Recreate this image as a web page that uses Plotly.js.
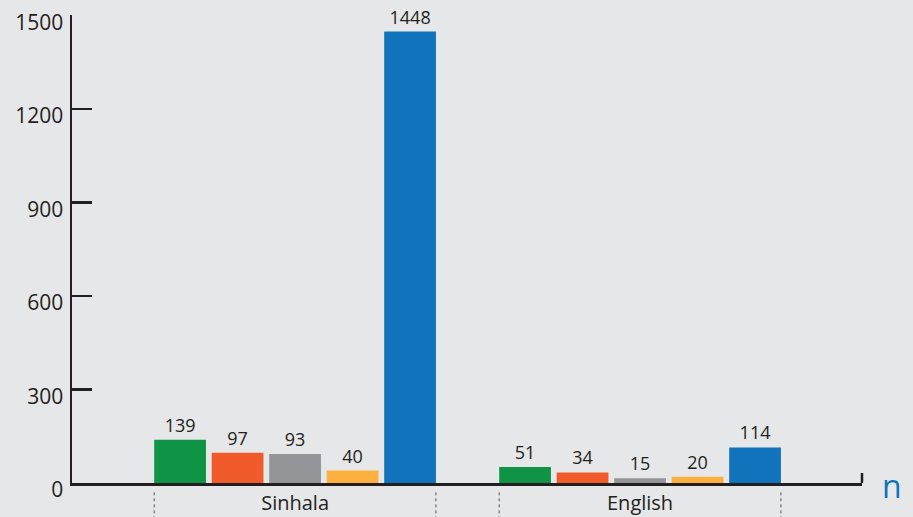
<!DOCTYPE html>
<html>
<head>
<meta charset="utf-8">
<script src="https://cdn.plot.ly/plotly-3.0.1.min.js"></script>
<style>html,body{margin:0;padding:0;background:#e6e7e8;}#chart{width:913px;height:517px;}</style>
</head>
<body>
<div id="chart"></div>
<script>
const groups = ['Sinhala', 'English'];
const seriesColors = ['#0f9345', '#f15a2b', '#939598', '#fbb040', '#1173bb'];
const sinhalaValues = [139, 97, 93, 40, 1448];
const englishValues = [51, 34, 15, 20, 114];
const yTicks = [0, 300, 600, 900, 1200, 1500];
const unitLabel = 'n';

const groupValues = [sinhalaValues, englishValues];
const perGroup = sinhalaValues.length;
const groupStep = perGroup + 1;

const xs = [], ys = [], cols = [], txt = [];
groupValues.forEach((vals, g) => {
  vals.forEach((v, i) => {
    xs.push(g * groupStep + i);
    ys.push(v);
    cols.push(seriesColors[i]);
    txt.push(String(v));
  });
});

const trace = {
  type: 'bar',
  x: xs, y: ys,
  width: 0.9,
  marker: {color: cols, line: {width: 0}},
  text: txt,
  textposition: 'outside',
  textfont: {family: 'Open Sans, sans-serif', size: 18, color: '#231f20'},
  cliponaxis: false,
  hoverinfo: 'none'
};

const shapes = [];
groupValues.forEach((vals, g) => {
  const start = g * groupStep - 0.45;
  const end = g * groupStep + perGroup - 1 + 0.45;
  [start, end].forEach(xv => shapes.push({
    type: 'line', xref: 'x', yref: 'paper', x0: xv, x1: xv, y0: -0.02, y1: -0.08,
    line: {color: '#555', width: 1, dash: 'dot'}
  }));
});
shapes.push({type: 'line', xref: 'paper', yref: 'y', x0: 1, x1: 1, y0: 0, y1: 32,
  line: {color: '#231f20', width: 2.5}});

const layout = {
  width: 913, height: 517,
  margin: {l: 72, r: 51, t: 15, b: 34},
  paper_bgcolor: '#e6e7e8', plot_bgcolor: '#e6e7e8',
  showlegend: false,
  font: {family: 'Open Sans, sans-serif', color: '#231f20'},
  xaxis: {
    range: [-1.88, 11.86],
    tickvals: groups.map((g, i) => i * groupStep + (perGroup - 1) / 2),
    ticktext: groups,
    ticks: '',
    showgrid: false, zeroline: false,
    showline: true, linecolor: '#231f20', linewidth: 2.5,
    tickfont: {size: 20, color: '#231f20'},
    ticklabelstandoff: 0,
    fixedrange: true
  },
  yaxis: {
    range: [0, 1501],
    tickvals: yTicks,
    ticks: 'inside', ticklen: 20, tickwidth: 2.5, tickcolor: '#231f20',
    showgrid: false, zeroline: false,
    showline: true, linecolor: '#231f20', linewidth: 2.5,
    tickfont: {size: 21, color: '#231f20'},
    ticklabelshift: 7,
    ticklabelstandoff: 2,
    fixedrange: true
  },
  shapes: shapes,
  annotations: [{
    xref: 'paper', yref: 'y', x: 1, y: 0, xanchor: 'left', yanchor: 'middle',
    xshift: 18, yshift: -2,
    text: unitLabel, showarrow: false,
    font: {size: 32, color: '#1173bb', family: 'Open Sans, sans-serif'}
  }]
};

Plotly.newPlot('chart', [trace], layout, {displayModeBar: false, staticPlot: true});
</script>
</body>
</html>
